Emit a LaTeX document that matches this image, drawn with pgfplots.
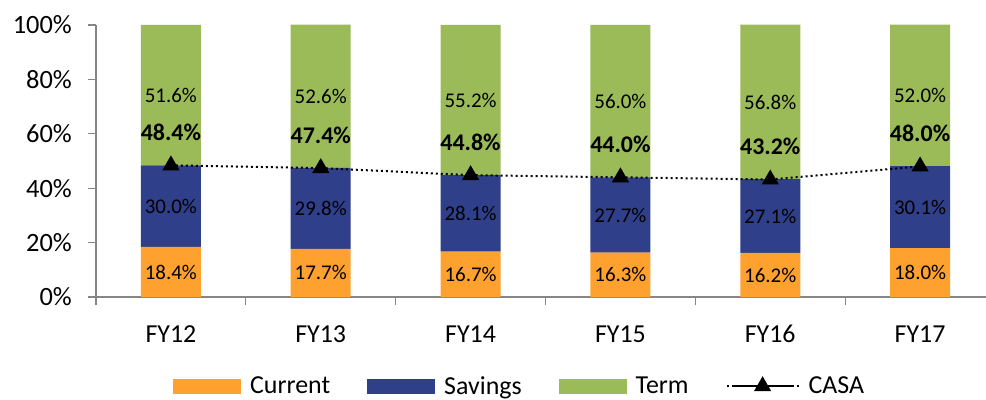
\documentclass[border=0pt]{standalone}
\usepackage{fontspec}
\setmainfont{Carlito}
\usepackage{pgfplots}
\pgfplotsset{compat=1.18}
\definecolor{cur}{HTML}{FFA12F}
\definecolor{sav}{HTML}{2F3F89}
\definecolor{term}{HTML}{9BBB59}
\definecolor{axgray}{HTML}{868686}
\tikzset{
  lab/.style={font=\fontsize{21}{25}\selectfont, anchor=center, inner sep=0pt},
  blab/.style={font=\bfseries\fontsize{24}{28}\selectfont, anchor=center, inner sep=0pt},
  casaline/.style={black, line width=2bp, dash pattern=on 2bp off 3bp},
}
\begin{document}
\begin{tikzpicture}
\pgfplotsset{
  base/.style={
    width=890bp, height=272bp, scale only axis,
    xmin=-0.5, xmax=5.44, ymin=0, ymax=100,
  },
  barleg/.style={legend image code/.code={\fill[##1, draw=none] (0bp,-7.5bp) rectangle (68bp,7.5bp);}},
  casaleg/.style={legend image code/.code={%
    \draw[##1, mark=none] (0bp,0bp) -- (72bp,0bp);
    \draw[##1, solid] plot coordinates {(36bp,0bp)};}},
}
\begin{axis}[base,
  ybar stacked, bar width=60bp,
  axis x line*=bottom, axis y line*=left,
  axis line style={axgray, line width=1.2bp},
  tick align=outside, major tick length=8bp,
  tick style={axgray, line width=1.2bp},
  ytick={0,20,...,100},
  yticklabel={\pgfmathprintnumber{\tick}\%},
  yticklabel style={font=\fontsize{26.5}{30}\selectfont, inner sep=0pt, xshift=-16bp},
  xtick={-0.5,0.5,...,5.5}, xticklabels={},
  extra x ticks={0,1,2,3,4,5},
  extra x tick labels={FY12,FY13,FY14,FY15,FY16,FY17},
  extra x tick style={major tick length=0pt,
    tick label style={font=\fontsize{26}{30}\selectfont, anchor=base, inner sep=0pt, yshift=-45bp}},
  /pgf/number format/assume math mode=true,
  legend columns=4,
  legend style={at={(0.476,-0.328)}, anchor=center, draw=none, fill=none,
    font=\fontsize{26}{30}\selectfont,
    /tikz/every odd column/.append style={column sep=7bp},
    /tikz/every even column/.append style={column sep=35bp}},
]
\addplot[fill=cur, draw=none, barleg] coordinates {(0,18.4) (1,17.7) (2,16.7) (3,16.3) (4,16.2) (5,18.0)};
\addplot[fill=sav, draw=none, barleg] coordinates {(0,30.0) (1,29.8) (2,28.1) (3,27.7) (4,27.1) (5,30.1)};
\addplot[fill=term, draw=none, barleg] coordinates {(0,51.6) (1,52.6) (2,55.2) (3,56.0) (4,56.8) (5,52.0)};
\addlegendimage{casaleg, casaline, mark=triangle*, mark size=8bp, mark options={solid}}
\legend{Current,Savings,Term,CASA}
\end{axis}
\begin{axis}[base, hide axis, clip=false]
\addplot[casaline, mark=triangle*, mark size=8bp, mark options={solid}]
  coordinates {(0,48.4) (1,47.4) (2,44.8) (3,44.0) (4,43.2) (5,48.0)};
% segment labels
\node[lab] at (axis cs:0,9.2) {18.4\%};
\node[lab] at (axis cs:1,8.85) {17.7\%};
\node[lab] at (axis cs:2,8.35) {16.7\%};
\node[lab] at (axis cs:3,8.15) {16.3\%};
\node[lab] at (axis cs:4,8.1) {16.2\%};
\node[lab] at (axis cs:5,9.0) {18.0\%};
\node[lab] at (axis cs:0,33.4) {30.0\%};
\node[lab] at (axis cs:1,32.6) {29.8\%};
\node[lab] at (axis cs:2,30.75) {28.1\%};
\node[lab] at (axis cs:3,30.15) {27.7\%};
\node[lab] at (axis cs:4,29.75) {27.1\%};
\node[lab] at (axis cs:5,33.05) {30.1\%};
\node[lab] at (axis cs:0,74.2) {51.6\%};
\node[lab] at (axis cs:1,73.7) {52.6\%};
\node[lab] at (axis cs:2,72.4) {55.2\%};
\node[lab] at (axis cs:3,72.0) {56.0\%};
\node[lab] at (axis cs:4,71.6) {56.8\%};
\node[lab] at (axis cs:5,74.0) {52.0\%};
\node[blab] at (axis cs:0,60.4) {48.4\%};
\node[blab] at (axis cs:1,59.4) {47.4\%};
\node[blab] at (axis cs:2,56.8) {44.8\%};
\node[blab] at (axis cs:3,56.0) {44.0\%};
\node[blab] at (axis cs:4,55.2) {43.2\%};
\node[blab] at (axis cs:5,60.0) {48.0\%};
\end{axis}
\pgfresetboundingbox
\path (-96bp,-103bp) rectangle (890bp,297bp);
\end{tikzpicture}
\end{document}
